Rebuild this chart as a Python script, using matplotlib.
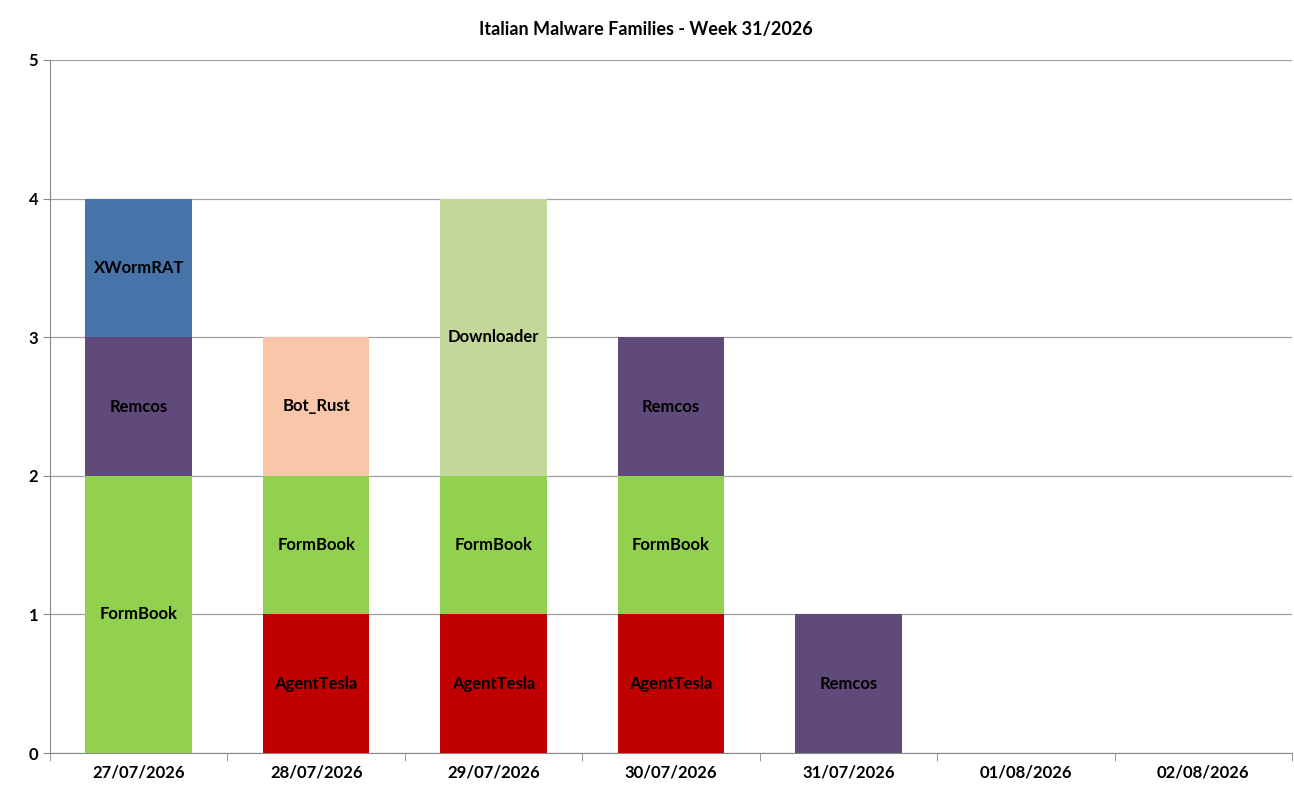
import matplotlib
matplotlib.use("Agg")
import matplotlib.pyplot as plt
import numpy as np

days = ["27/07/2026", "28/07/2026", "29/07/2026", "30/07/2026", "31/07/2026", "01/08/2026", "02/08/2026"]
families = ["AgentTesla", "FormBook", "Remcos", "Bot_Rust", "Downloader", "XWormRAT"]
AgentTesla = [0, 1, 1, 1, 0, 0, 0]
FormBook = [2, 1, 1, 1, 0, 0, 0]
Remcos = [1, 0, 0, 1, 1, 0, 0]
Bot_Rust = [0, 1, 0, 0, 0, 0, 0]
Downloader = [0, 0, 2, 0, 0, 0, 0]
XWormRAT = [1, 0, 0, 0, 0, 0, 0]
series = [AgentTesla, FormBook, Remcos, Bot_Rust, Downloader, XWormRAT]
colors = ["#C00000", "#92D050", "#604A7B", "#F9C6AA", "#C4D79B", "#4674A9"]

plt.rcParams['font.family'] = ['Lato', 'DejaVu Sans']
fig = plt.figure(figsize=(12.94, 7.93), dpi=100)
ax = fig.add_axes([50/1294, 40/793, 1242/1294, 693/793])
x = np.arange(len(days))
bottom = np.zeros(len(days))
for name, vals, c in zip(families, series, colors):
    v = np.array(vals, float)
    ax.bar(x, v, 0.6, bottom=bottom, color=c, zorder=3)
    for i in range(len(days)):
        if v[i] > 0:
            ax.text(x[i], bottom[i] + v[i]/2, name, ha='center', va='center',
                    fontsize=12, fontweight='bold', zorder=4)
    bottom += v

ax.set_xlim(-0.5, len(days) - 0.5)
ax.set_ylim(0, 5)
ax.set_yticks(range(6))
ax.yaxis.grid(True, color='#a0a0a0', lw=0.9, zorder=0)
ax.set_xticks(x)
ax.set_xticklabels(days, fontsize=12, fontweight='bold')
ax.set_xticks(np.arange(-0.5, len(days)), minor=True)
ax.tick_params(axis='x', which='major', length=0, pad=8)
ax.tick_params(axis='x', which='minor', length=6, color='#888888')
ax.tick_params(axis='y', length=5, color='#888888', labelsize=12)
for l in ax.get_yticklabels():
    l.set_fontweight('bold')
for s in ['top', 'right']:
    ax.spines[s].set_visible(False)
for s in ['left', 'bottom']:
    ax.spines[s].set_color('#888888')
fig.text(646/1294, 1 - 30/793, "Italian Malware Families - Week 31/2026", ha='center', va='center',
         fontsize=13, fontweight='bold')
fig.savefig("out.png", dpi=100)
